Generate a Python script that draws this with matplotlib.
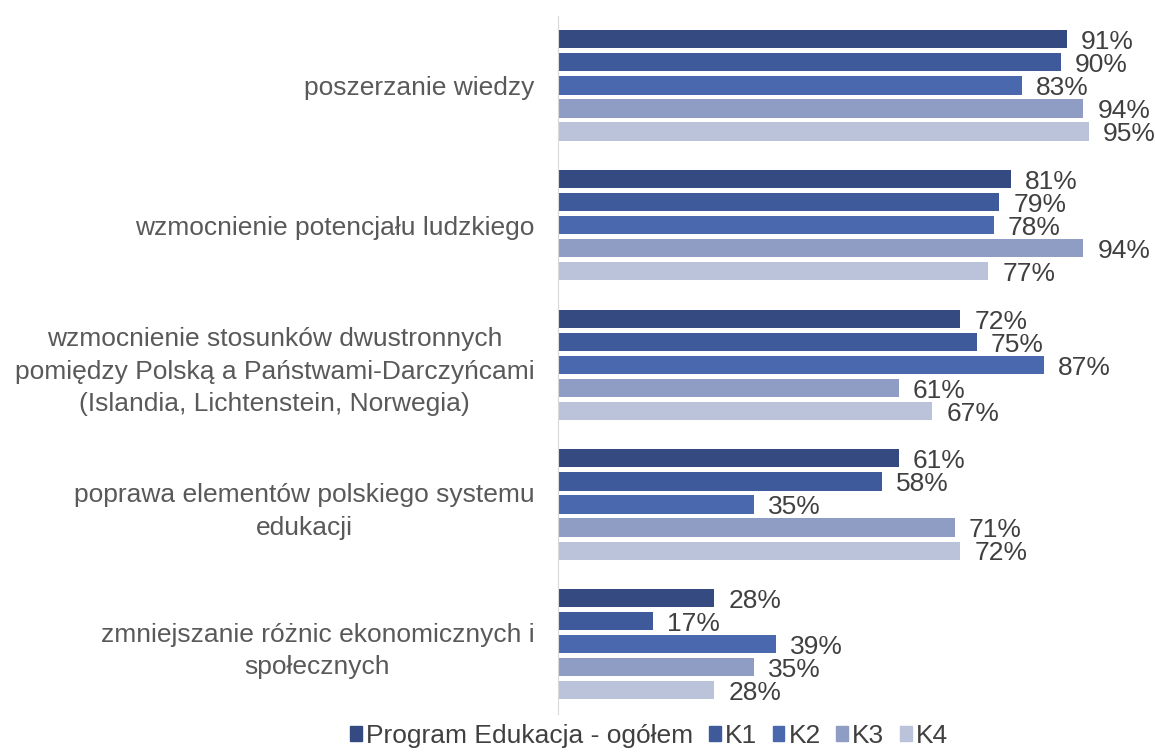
import numpy as np
import matplotlib.pyplot as plt
from matplotlib.patches import Patch

plt.rcParams["font.family"] = ["Liberation Sans", "DejaVu Sans"]

categories = ["poszerzanie wiedzy",
              "wzmocnienie potencjału ludzkiego",
              "wzmocnienie stosunków dwustronnych\npomiędzy Polską a Państwami-Darczyńcami\n(Islandia, Lichtenstein, Norwegia)",
              "poprawa elementów polskiego systemu\nedukacji",
              "zmniejszanie różnic ekonomicznych i\nspołecznych"]
series = ["Program Edukacja - ogółem", "K1", "K2", "K3", "K4"]
ogolem = [91, 81, 72, 61, 28]
k1 = [90, 79, 75, 58, 17]
k2 = [83, 78, 87, 35, 39]
k3 = [94, 94, 61, 71, 35]
k4 = [95, 77, 67, 72, 28]
values = [ogolem, k1, k2, k3, k4]
colors = ["#344A80", "#3F5A9A", "#4968AE", "#8F9CC4", "#BBC3DA"]

fig = plt.figure(figsize=(11.55, 7.55), dpi=100)
ax = fig.add_axes([0.483, 0.0543, 0.484, 0.925])

step = 0.165
h = 0.13
y0 = np.arange(len(categories))
for j, vals in enumerate(values):
    ys = y0 - 2 * step + j * step
    ax.barh(ys, vals, height=h, color=colors[j], label=series[j])
    for y, v in zip(ys, vals):
        ax.text(v + 2.5, y + 0.02, f"{v}%", va="center", ha="left",
                fontsize=19, color="#404040")

ax.set_xlim(0, 100)
ax.set_ylim(len(categories) - 0.5, -0.5)
ax.set_yticks(y0)
ax.set_yticklabels(categories, fontsize=19, color="#595959", ha="right",
                   multialignment="center", linespacing=1.45)
ax.tick_params(axis="y", length=0, pad=17)
ax.set_xticks([])
for s in ["top", "right", "bottom"]:
    ax.spines[s].set_visible(False)
ax.spines["left"].set_color("#D9D9D9")

handles = [Patch(color=c) for c in colors]
fig.legend(handles, series, loc="lower center", bbox_to_anchor=(0.562, -0.022),
           ncol=5, frameon=False, fontsize=19, handlelength=0.45, handleheight=0.45,
           handletextpad=0.15, columnspacing=0.6, labelcolor="#404040")

plt.savefig("out.png", dpi=100)
